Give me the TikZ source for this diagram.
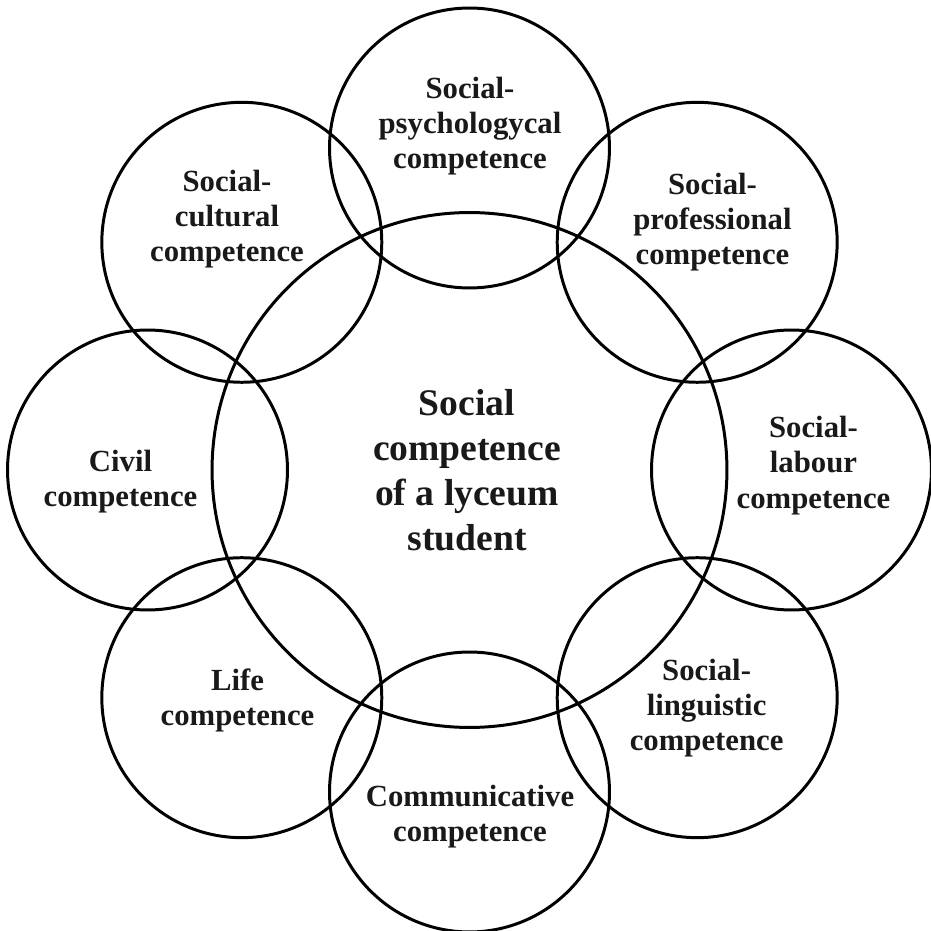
\documentclass[tikz,border=0pt]{standalone}
\usepackage{fontspec}
\setmainfont{Liberation Serif}
\begin{document}
\begin{tikzpicture}[x=0.02cm,y=0.02cm,
  ring/.style={circle,draw=black,line width=1.7pt,inner sep=0pt,minimum size=5.6cm},
  bigring/.style={circle,draw=black,line width=1.7pt,inner sep=0pt,minimum size=10.3cm},
  lbl/.style={align=center,inner sep=0pt,font=\fontsize{17.5}{20}\selectfont\bfseries,text=black!90},
  biglbl/.style={align=center,inner sep=0pt,font=\fontsize{21.4}{25.6}\selectfont\bfseries,text=black!90}]
\useasboundingbox (0,0) rectangle (931,931);
\node[bigring] (big) at (469.5,461) {};
\node[ring] (psy) at (469.5,783) {};
\node[ring] (pro) at (697.2,688.7) {};
\node[ring] (lab) at (791.5,461) {};
\node[ring] (lin) at (697.2,233.3) {};
\node[ring] (com) at (469.5,139) {};
\node[ring] (lif) at (241.8,233.3) {};
\node[ring] (civ) at (147.5,461) {};
\node[ring] (cul) at (241.8,688.7) {};
\node[biglbl] (tbig) at (467,461) {Social\\competence\\of a lyceum\\student};
\node[lbl] (tpsy) at (470,805) {Social-\\psychologycal\\competence};
\node[lbl] (tpro) at (712.5,709) {Social-\\professional\\competence};
\node[lbl] (tlab) at (813.5,465.5) {Social-\\labour\\competence};
\node[lbl] (tlin) at (706.6,223) {Social-\\linguistic\\competence};
\node[lbl] (tcom) at (470,114.5) {Communicative\\competence};
\node[lbl] (tlif) at (237.5,230.5) {Life\\competence};
\node[lbl] (tciv) at (120.5,449) {Civil\\competence};
\node[lbl] (tcul) at (227,712) {Social-\\cultural\\competence};
\end{tikzpicture}
\end{document}
